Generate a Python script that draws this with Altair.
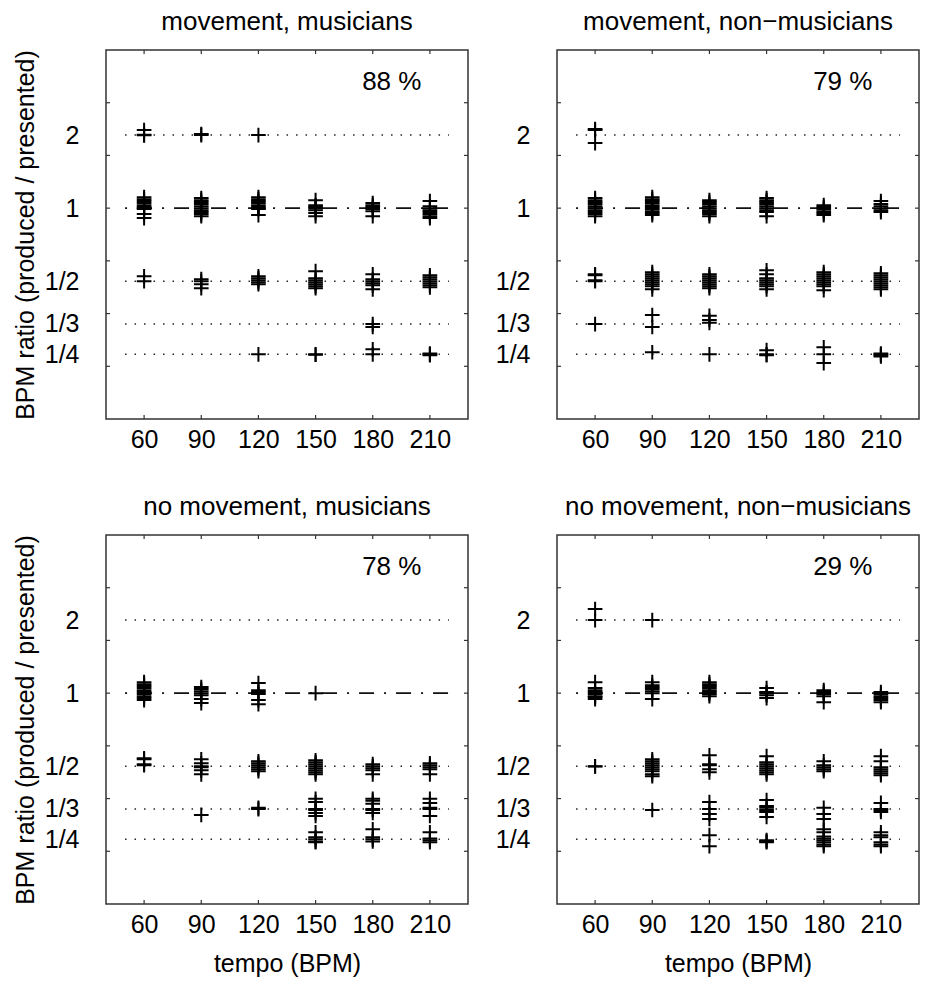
import math
import altair as alt
import pandas as pd

# ---------------- data ----------------
TEMPOS = [60, 90, 120, 150, 180, 210]
RATIO_LEVELS = [2, 1, 0.5, 1 / 3, 0.25]
RATIO_LABELS = ["2", "1", "1/2", "1/3", "1/4"]
YTICK_LN = [-1.5, -1.0, -0.5, 0.0, 0.5, 1.0]

PANEL_TITLES = [
    "movement, musicians",
    "movement, non\u2212musicians",
    "no movement, musicians",
    "no movement, non\u2212musicians",
]
PERCENTS = ["88 %", "79 %", "78 %", "29 %"]

# produced/presented BPM ratio of each response, by presented tempo
MOV_MUS = {
    60: [2.097, 2.005, 1.995,
         1.110, 1.089, 1.069, 1.049, 1.029, 1.010, 1.000, 0.991, 0.945, 0.910,
         0.524, 0.500],
    90: [2.020, 2.000,
         1.100, 1.079, 1.059, 1.039, 1.019, 1.000, 0.981, 0.963, 0.945, 0.927,
         0.510, 0.500, 0.486, 0.468],
    120: [2.000,
          1.110, 1.089, 1.069, 1.049, 1.029, 1.010, 1.000, 0.991, 0.936,
          0.524, 0.514, 0.505, 0.495, 0.486,
          0.250],
    150: [1.079, 1.029, 1.010, 1.000, 0.981, 0.954, 0.927,
          0.550, 0.514, 0.505, 0.495, 0.486, 0.477, 0.468,
          0.250, 0.249],
    180: [1.049, 1.029, 1.010, 0.991, 0.972, 0.927,
          0.534, 0.510, 0.500, 0.491, 0.481, 0.463,
          0.333, 0.324,
          0.262, 0.250],
    210: [1.069, 1.019, 1.000, 0.981, 0.963, 0.945, 0.927, 0.910,
          0.529, 0.519, 0.510, 0.500, 0.491, 0.481, 0.472,
          0.252, 0.250, 0.248],
}

MOV_NON = {
    60: [2.117, 2.097, 1.854,
         1.100, 1.079, 1.059, 1.039, 1.019, 1.000, 0.981, 0.963, 0.945, 0.927,
         0.534, 0.529, 0.505, 0.500,
         0.333],
    90: [1.110, 1.089, 1.069, 1.049, 1.029, 1.010, 0.991, 0.972, 0.954, 0.936,
         0.545, 0.534, 0.524, 0.514, 0.505, 0.495, 0.486, 0.477, 0.463,
         0.363, 0.324,
         0.255],
    120: [1.079, 1.059, 1.039, 1.019, 1.000, 0.981, 0.963, 0.945, 0.927,
          0.534, 0.524, 0.514, 0.505, 0.495, 0.486, 0.477, 0.468,
          0.360, 0.346, 0.337,
          0.250],
    150: [1.100, 1.079, 1.059, 1.039, 1.019, 1.000, 0.981, 0.963, 0.927,
          0.555, 0.534, 0.514, 0.505, 0.495, 0.486, 0.477, 0.463,
          0.260, 0.250, 0.248],
    180: [1.029, 1.010, 0.991, 0.972, 0.954, 0.936,
          0.545, 0.534, 0.524, 0.514, 0.505, 0.495, 0.486, 0.477, 0.459,
          0.267, 0.250, 0.230],
    210: [1.069, 1.039, 1.019, 1.000, 0.981, 0.963,
          0.539, 0.529, 0.519, 0.510, 0.500, 0.491, 0.481, 0.472, 0.463,
          0.252, 0.250, 0.248, 0.245],
}

NOMOV_MUS = {
    60: [1.110, 1.089, 1.069, 1.049, 1.029, 1.010, 0.991, 0.972, 0.954, 0.936,
         0.539, 0.534, 0.510, 0.505],
    90: [1.059, 1.039, 1.019, 1.000, 0.981, 0.945, 0.910,
         0.534, 0.514, 0.500, 0.495, 0.481, 0.463,
         0.315],
    120: [1.100, 1.029, 1.010, 0.991, 0.936, 0.901,
          0.524, 0.514, 0.505, 0.495, 0.486, 0.477,
          0.337, 0.333],
    150: [1.000,
          0.529, 0.519, 0.510, 0.500, 0.491, 0.481, 0.472, 0.463,
          0.367, 0.356, 0.333, 0.330, 0.321, 0.312,
          0.267, 0.255, 0.250, 0.245, 0.243],
    180: [0.510, 0.500, 0.491, 0.481, 0.463,
          0.367, 0.360, 0.350, 0.333, 0.330, 0.321,
          0.275, 0.255, 0.250, 0.245],
    210: [0.514, 0.505, 0.495, 0.486, 0.463,
          0.367, 0.353, 0.337, 0.333, 0.312,
          0.267, 0.252, 0.248, 0.243],
}

NOMOV_NON = {
    60: [2.220, 2.000,
         1.110, 1.049, 1.029, 1.010, 0.991, 0.972, 0.963, 0.945,
         0.500, 0.499],
    90: [2.000,
         1.110, 1.079, 1.059, 1.039, 1.019, 1.000, 0.945,
         0.534, 0.524, 0.514, 0.505, 0.495, 0.486, 0.477, 0.463, 0.455,
         0.330],
    120: [1.110, 1.089, 1.069, 1.049, 1.029, 1.010, 0.991, 0.972,
          0.555, 0.510, 0.505, 0.486, 0.472,
          0.356, 0.333, 0.318, 0.303,
          0.260, 0.234],
    150: [1.049, 1.010, 1.000, 0.981, 0.954,
          0.550, 0.519, 0.510, 0.500, 0.491, 0.481, 0.472, 0.463,
          0.363, 0.343, 0.337, 0.330, 0.324, 0.309,
          0.248, 0.245, 0.243],
    180: [1.029, 1.010, 0.991, 0.972, 0.918,
          0.524, 0.505, 0.495, 0.486, 0.477,
          0.337, 0.318, 0.303,
          0.275, 0.267, 0.257, 0.252, 0.248, 0.243, 0.238, 0.234],
    210: [1.010, 0.991, 0.972, 0.954, 0.936, 0.918,
          0.550, 0.524, 0.495, 0.486, 0.477, 0.468, 0.459,
          0.353, 0.333, 0.330, 0.324,
          0.267, 0.260, 0.255, 0.243, 0.238, 0.234],
}

PANEL_DATA = [MOV_MUS, MOV_NON, NOMOV_MUS, NOMOV_NON]

# ---------------- style ----------------
FONT = "Liberation Sans"
W, H = 362, 369
FS = 25
PLUS = "M-1,0H1M0,-1V1"

X_SCALE = alt.Scale(domain=[40, 230], nice=False, zero=False)
Y_SCALE = alt.Scale(type="log", base=math.e,
                    domain=[math.exp(-2.0), math.exp(1.5)], nice=False)

label_expr = " : ".join(
    f"abs(datum.value - {v}) < 0.001 ? '{l}'" for v, l in zip(RATIO_LEVELS, RATIO_LABELS)
) + " : ''"


def x_axis(show_title):
    kw = dict(values=TEMPOS, ticks=False, domain=False, grid=False,
              labelPadding=8, labelFontSize=FS, labelFont=FONT,
              labelColor="black", titleFont=FONT, titleFontSize=FS,
              titleFontWeight="normal", titleColor="black", titlePadding=14)
    kw["title"] = "tempo (BPM)" if show_title else None
    return alt.Axis(**kw)


def y_axis(show_title):
    kw = dict(values=RATIO_LEVELS, labelExpr=label_expr, ticks=False,
              domain=False, grid=False, labelPadding=27, labelFontSize=FS,
              labelFont=FONT, labelColor="black", titleFont=FONT,
              titleFontSize=FS, titleFontWeight="normal", titleColor="black",
              titlePadding=6)
    kw["title"] = "BPM ratio (produced / presented)" if show_title else None
    return alt.Axis(**kw)


def panel(idx, show_x_title, show_y_title):
    data = PANEL_DATA[idx]
    pts = pd.DataFrame([(t, r) for t, lst in data.items() for r in lst],
                       columns=["tempo", "ratio"])
    xa, ya = x_axis(show_x_title), y_axis(show_y_title)

    def X(f):
        return alt.X(f, type="quantitative", scale=X_SCALE, axis=xa)

    def Y(f):
        return alt.Y(f, type="quantitative", scale=Y_SCALE, axis=ya)

    dotted_df = pd.DataFrame({"ratio": [2, 0.5, 1 / 3, 0.25],
                              "tempo": [50] * 4, "tempo_end": [220] * 4})
    unity_df = pd.DataFrame({"ratio": [1], "tempo": [50], "tempo_end": [220]})

    dotted = alt.Chart(dotted_df).mark_rule(
        color="#222", strokeWidth=1.4, strokeDash=[1.5, 8]
    ).encode(x=X("tempo"), x2="tempo_end", y=Y("ratio"))

    unity = alt.Chart(unity_df).mark_rule(
        color="#111", strokeWidth=1.7, strokeDash=[15, 10, 2, 10],
        strokeDashOffset=25
    ).encode(x=X("tempo"), x2="tempo_end", y=Y("ratio"))

    plus = alt.Chart(pts).mark_point(
        shape=PLUS, size=215, filled=False, color="black",
        strokeWidth=2.0, opacity=1
    ).encode(x=X("tempo"), y=Y("ratio"))

    txt = alt.Chart(pd.DataFrame({"tempo": [190], "ratio": [math.exp(1.2)],
                                  "label": [PERCENTS[idx]]})).mark_text(
        font=FONT, fontSize=26, color="black", align="center", baseline="middle"
    ).encode(x=X("tempo"), y=Y("ratio"), text="label:N")

    xt = pd.DataFrame({"tempo": TEMPOS})
    yt = pd.DataFrame({"ratio": [math.exp(v) for v in YTICK_LN]})
    tick_style = dict(color="#333", strokeWidth=1.2)
    xticks_b = alt.Chart(xt).mark_rule(**tick_style).encode(
        x=X("tempo"), y=alt.value(H), y2=alt.value(H - 4))
    xticks_t = alt.Chart(xt).mark_rule(**tick_style).encode(
        x=X("tempo"), y=alt.value(0), y2=alt.value(4))
    yticks_l = alt.Chart(yt).mark_rule(**tick_style).encode(
        y=Y("ratio"), x=alt.value(0), x2=alt.value(4))
    yticks_r = alt.Chart(yt).mark_rule(**tick_style).encode(
        y=Y("ratio"), x=alt.value(W), x2=alt.value(W - 4))

    return alt.layer(
        dotted, unity, plus, txt, xticks_b, xticks_t, yticks_l, yticks_r
    ).properties(
        width=W, height=H,
        title=alt.TitleParams(PANEL_TITLES[idx], font=FONT, fontSize=26,
                              fontWeight="normal", color="black",
                              anchor="middle", frame="group", offset=14),
    )


top = alt.hconcat(panel(0, False, True), panel(1, False, False), spacing=24)
bottom = alt.hconcat(panel(2, True, True), panel(3, True, False), spacing=24)

chart = alt.vconcat(top, bottom, spacing=40).properties(
    padding={"left": 12, "top": 8, "right": 0, "bottom": 0},
    background="white",
).configure_view(stroke="#333", strokeWidth=1.5)

chart.save("out.html", embed_options={"renderer": "svg", "actions": False})
